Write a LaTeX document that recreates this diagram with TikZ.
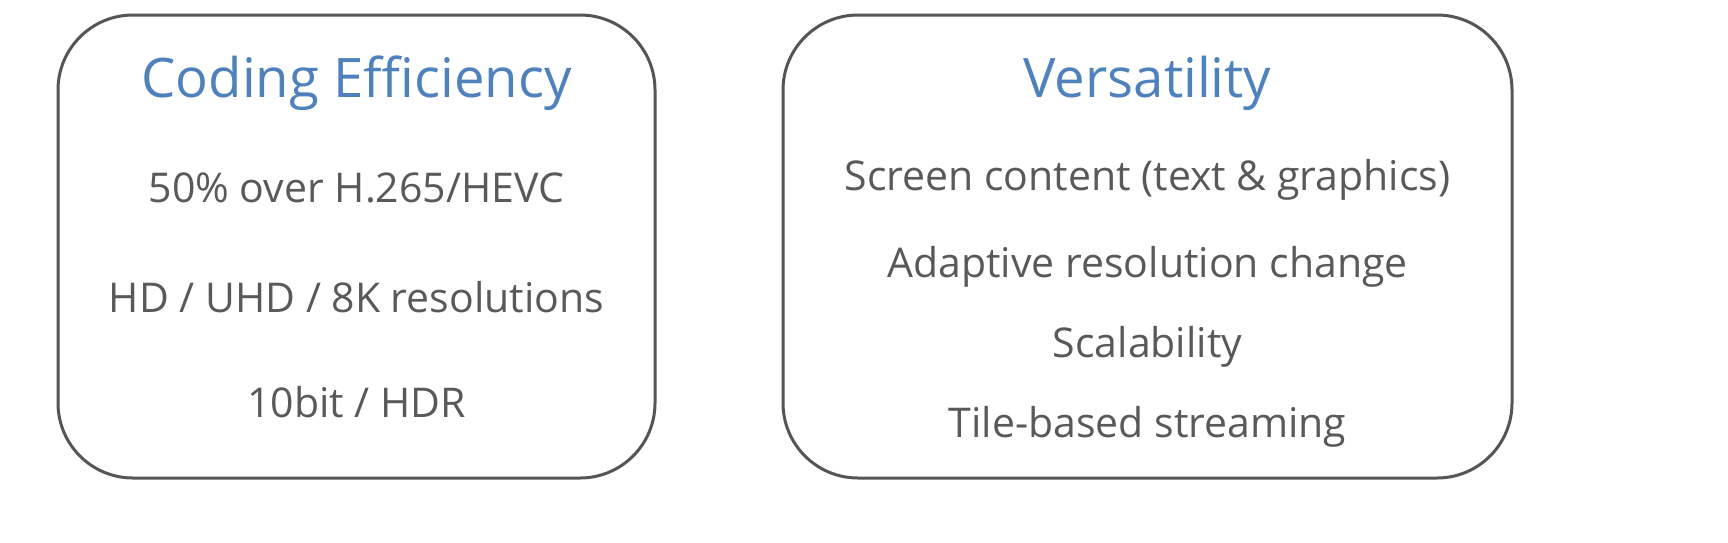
\documentclass[tikz,border=0pt]{standalone}
\usepackage{fontspec}
\setmainfont{Open Sans}
\definecolor{boxline}{HTML}{555555}
\definecolor{bodytxt}{HTML}{595959}
\definecolor{titleblue}{HTML}{4F81BD}
\begin{document}
\begin{tikzpicture}[x=1pt,y=-1pt,
  panel/.style={draw=boxline,line width=3pt,rounded corners=75pt},
  ttl/.style={anchor=base,inner sep=0pt,text=titleblue,font=\fontsize{54.5}{60}\selectfont},
  item/.style={anchor=base,inner sep=0pt,text=bodytxt,font=\fontsize{41}{46}\selectfont}]
\useasboundingbox (0,0) rectangle (1728,542);
\draw[panel] (58,15) rectangle (655,478);
\draw[panel] (783,15) rectangle (1512,478);
\node[ttl] (t1) at (356.5,97) {Coding Efficiency};
\node[item] (a1) at (356.5,202) {50\% over H.265/HEVC};
\node[item] (a2) at (356.5,312) {HD / UHD / 8K resolutions};
\node[item] (a3) at (356.5,417) {10bit / HDR};
\node[ttl] (t2) at (1147.5,97) {Versatility};
\node[item] (b1) at (1147.5,190) {Screen content (text \& graphics)};
\node[item] (b2) at (1147.5,277) {Adaptive resolution change};
\node[item] (b3) at (1147.5,357) {Scalability};
\node[item] (b4) at (1147.5,437) {Tile-based streaming};
\end{tikzpicture}
\end{document}
